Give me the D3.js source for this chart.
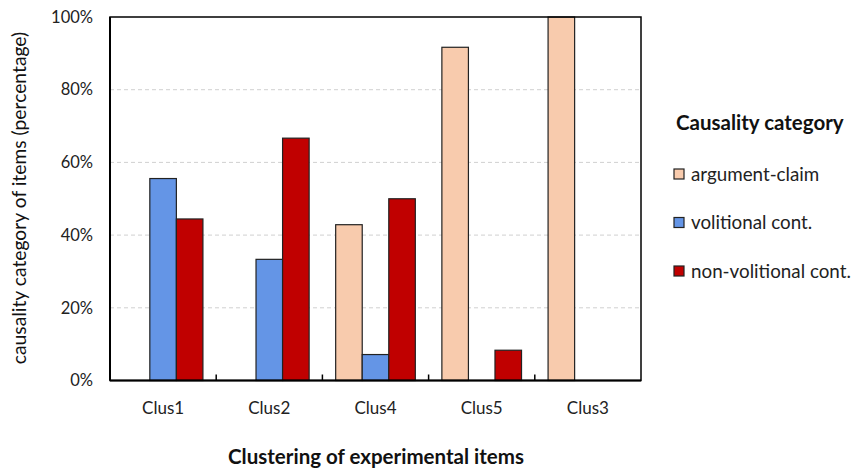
<!DOCTYPE html>
<html><head><meta charset="utf-8">
<script src="https://cdn.jsdelivr.net/npm/d3@7"></script>
<style>body{margin:0;background:#fff;} text{font-family:Lato,"Open Sans",sans-serif;}</style>
</head><body><svg id="c" width="853" height="469"></svg>
<script>
const categories = ["Clus1","Clus2","Clus4","Clus5","Clus3"];
const seriesNames = ["argument-claim","volitional cont.","non-volitional cont."];
const argumentClaim = [0, 0, 42.86, 91.67, 100];
const volitional = [55.56, 33.33, 7.14, 0, 0];
const nonVolitional = [44.44, 66.67, 50, 8.33, 0];
const yTicks = [0,20,40,60,80,100];
const colors = ["#F8CBAD","#6495E6","#C00000"];
const series = [argumentClaim, volitional, nonVolitional];

const svg = d3.select("#c");
const L=110, R=641, T=17, B=380.5;
const x = d3.scaleBand().domain(categories).range([L,R]).paddingInner(0.25).paddingOuter(0.125);
const xs = d3.scaleBand().domain(d3.range(3)).range([0,x.bandwidth()]);
const y = d3.scaleLinear().domain([0,100]).range([B,T]);

// gridlines
svg.append("g").selectAll("line").data(yTicks.filter(t=>t>0&&t<100)).join("line")
  .attr("x1",L).attr("x2",R).attr("y1",d=>y(d)).attr("y2",d=>y(d))
  .attr("stroke","#d0d0d0").attr("stroke-dasharray","4,3").attr("stroke-width",1);

// bars
categories.forEach((c,i)=>{
  series.forEach((s,j)=>{
    if(s[i]<=0) return;
    svg.append("rect").attr("x",x(c)+xs(j)).attr("width",xs.bandwidth())
      .attr("y",y(s[i])).attr("height",B-y(s[i]))
      .attr("fill",colors[j]).attr("stroke","#222").attr("stroke-width",1.2);
  });
});

// frame
svg.append("rect").attr("x",L).attr("y",T).attr("width",R-L).attr("height",B-T)
  .attr("fill","none").attr("stroke","#000").attr("stroke-width",1.5);
svg.append("line").attr("x1",L).attr("x2",R).attr("y1",B).attr("y2",B).attr("stroke","#000").attr("stroke-width",2);
svg.append("line").attr("x1",L).attr("x2",L).attr("y1",T).attr("y2",B).attr("stroke","#000").attr("stroke-width",2);

// x ticks (inner) at band boundaries
const step = x.step();
svg.append("g").selectAll("line").data(d3.range(1,5)).join("line")
  .attr("x1",d=>L+d*step).attr("x2",d=>L+d*step).attr("y1",B-6).attr("y2",B)
  .attr("stroke","#000").attr("stroke-width",1.5);

// y tick labels
svg.append("g").selectAll("text").data(yTicks).join("text")
  .attr("x",93).attr("y",d=>y(d)).attr("dy","0.35em").attr("text-anchor","end")
  .attr("font-size",16.5).attr("fill","#222").text(d=>d+"%");

// x labels
svg.append("g").selectAll("text").data(categories).join("text")
  .attr("x",d=>x(d)+x.bandwidth()/2).attr("y",414).attr("text-anchor","middle")
  .attr("font-size",17).attr("fill","#222").text(d=>d);

// axis titles
svg.append("text").attr("x",376).attr("y",464).attr("text-anchor","middle")
  .attr("font-size",20.5).attr("font-weight","bold").attr("fill","#111").text("Clustering of experimental items");
svg.append("text").attr("transform","translate(26,198) rotate(-90)").attr("text-anchor","middle")
  .attr("font-size",19.3).attr("fill","#111").text("causality category of items (percentage)");

// legend
svg.append("text").attr("x",676).attr("y",130).attr("font-size",20.5).attr("font-weight","bold").attr("fill","#111").text("Causality category");
seriesNames.forEach((n,j)=>{
  const cy = 174 + j*48.5;
  svg.append("rect").attr("x",674).attr("y",cy-5).attr("width",10).attr("height",10)
    .attr("fill",colors[j]).attr("stroke","#222").attr("stroke-width",1.2);
  svg.append("text").attr("x",691).attr("y",cy).attr("dy","0.35em").attr("font-size",18.8).attr("fill","#222").text(n);
});
</script></body></html>
